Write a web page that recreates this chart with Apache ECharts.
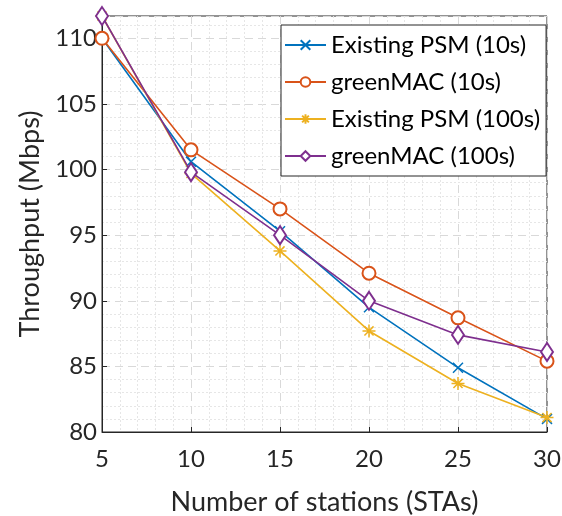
<!DOCTYPE html>
<html><head><meta charset="utf-8">
<script src="https://cdn.jsdelivr.net/npm/echarts@6/dist/echarts.min.js"></script>
<style>html,body{margin:0;padding:0;background:#fff}#c{width:562px;height:516px}</style>
</head><body><div id="c"></div>
<script>
const stations = [5, 10, 15, 20, 25, 30];
const psm10 = [110.0, 100.6, 95.3, 89.5, 84.9, 81.0];
const green10 = [110.0, 101.5, 97.0, 92.1, 88.7, 85.4];
const psm100 = [111.7, 99.7, 93.8, 87.7, 83.7, 81.1];
const green100 = [111.7, 99.8, 95.0, 90.0, 87.4, 86.1];
const yTicks = [80, 85, 90, 95, 100, 105, 110];
const names = ['Existing PSM (10s)', 'greenMAC (10s)', 'Existing PSM (100s)', 'greenMAC (100s)'];
const colors = ['#0072BD', '#D95319', '#EDB120', '#7E2F8E'];

const FONT = 'Lato';
const axisColor = '#262626';
const xPath = 'path://M0,0L10,10M10,0L0,10';
const starPath = 'path://M5,0L5,10M0,5L10,5M1.5,1.5L8.5,8.5M8.5,1.5L1.5,8.5';
const symbols = [xPath, 'emptyCircle', starPath, 'emptyDiamond'];
const sizes = [[10, 10], 13, [13, 13], [12, 18]];
const datas = [psm10, green10, psm100, green100];

const chart = echarts.init(document.getElementById('c'));
const series = names.map((n, i) => ({
  name: n,
  type: 'line',
  data: stations.map((s, k) => [s, datas[i][k]]),
  symbol: symbols[i],
  symbolSize: sizes[i],
  showAllSymbol: true,
  lineStyle: { color: colors[i], width: 1.6 },
  itemStyle: { color: colors[i], borderColor: colors[i], borderWidth: 1.5 },
  emphasis: { disabled: true },
  z: 3 + i
}));

chart.setOption({
  animation: false,
  backgroundColor: '#fff',
  grid: { left: 102, right: 15, top: 16, bottom: 84, outerBoundsMode: 'none', containLabel: false,
    show: true, borderColor: axisColor, borderWidth: 1, backgroundColor: 'transparent' },
  legend: {
    orient: 'vertical', left: 281, top: 25,
    data: names,
    itemWidth: 41, itemHeight: 12, itemGap: 9,
    backgroundColor: '#fff', borderColor: axisColor, borderWidth: 1,
    padding: [6, 6, 6, 3],
    textStyle: { fontFamily: FONT, fontSize: 24, color: '#000', lineHeight: 28 },
    selectedMode: false
  },
  xAxis: {
    type: 'value', min: 5, max: 30, interval: 5,
    name: 'Number of stations (STAs)', nameLocation: 'middle', nameGap: 57,
    nameTextStyle: { fontFamily: FONT, fontSize: 27, color: axisColor },
    axisLine: { show: true, lineStyle: { color: axisColor } },
    axisTick: { show: true, inside: true, length: 5, lineStyle: { color: axisColor } },
    axisLabel: { fontFamily: FONT, fontSize: 24, color: axisColor, margin: 15 },
    splitLine: { show: true, lineStyle: { color: '#d9d9d9', type: [8, 5] } },
    minorTick: { show: false, splitNumber: 5 },
    minorSplitLine: { show: true, lineStyle: { color: '#e6e6e6', type: [2, 2] } }
  },
  yAxis: {
    type: 'value', min: 80, max: 111.7, interval: 5,
    name: 'Throughput (Mbps)', nameLocation: 'middle', nameGap: 58,
    nameTextStyle: { fontFamily: FONT, fontSize: 27, color: axisColor },
    axisLine: { show: true, lineStyle: { color: axisColor } },
    axisTick: { show: true, inside: true, length: 5, lineStyle: { color: axisColor } },
    axisLabel: { fontFamily: FONT, fontSize: 24, color: axisColor, margin: 5, showMaxLabel: false,
      formatter: v => yTicks.includes(v) ? String(v) : '' },
    splitLine: { show: true, lineStyle: { color: '#d9d9d9', type: [8, 5] } },
    minorTick: { show: false, splitNumber: 5 },
    minorSplitLine: { show: true, lineStyle: { color: '#e6e6e6', type: [2, 2] } }
  },
  series: series
});
</script>
</body></html>
